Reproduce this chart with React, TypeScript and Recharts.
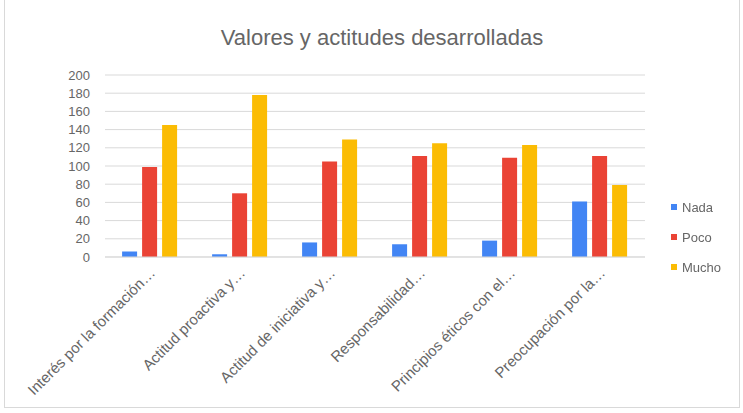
import { BarChart, Bar, XAxis, YAxis, CartesianGrid, Legend } from 'recharts';

const categories = [
  'Interés por la formación…',
  'Actitud proactiva y…',
  'Actitud de iniciativa y…',
  'Responsabilidad…',
  'Principios éticos con el…',
  'Preocupación por la…',
];
const nada = [6, 3, 16, 14, 18, 61];
const poco = [99, 70, 105, 111, 109, 111];
const mucho = [145, 178, 129, 125, 123, 79];
const yTicks = [0, 20, 40, 60, 80, 100, 120, 140, 160, 180, 200];

const series = [
  { key: 'nada', name: 'Nada', color: '#4285F4' },
  { key: 'poco', name: 'Poco', color: '#EA4335' },
  { key: 'mucho', name: 'Mucho', color: '#FBBC04' },
];

const data = categories.map((name, i) => ({ name, nada: nada[i], poco: poco[i], mucho: mucho[i] }));

const font = '"Liberation Sans", Arial, sans-serif';
const textColor = '#666666';

function LegendBox() {
  return (
    <div style={{ fontFamily: font, fontSize: 13, color: textColor }}>
      {series.map((s) => (
        <div key={s.key} style={{ display: 'flex', alignItems: 'center', height: 30 }}>
          <span style={{ width: 6, height: 6, background: s.color, marginRight: 5, display: 'inline-block' }} />
          {s.name}
        </div>
      ))}
    </div>
  );
}

function XTick(props: any) {
  const { x, y, payload } = props;
  const ax = x + 6;
  const ay = y + 9;
  return (
    <text
      x={ax}
      y={ay}
      transform={`rotate(-45, ${ax}, ${ay})`}
      textAnchor="end"
      fill={textColor}
      fontSize={15}
      fontFamily={font}
    >
      {payload.value}
    </text>
  );
}

export default function App() {
  return (
    <div style={{ position: 'fixed', left: 0, top: 0, width: 743, height: 413, background: '#fff' }}>
      <div
        style={{
          position: 'absolute', left: 4, top: -2, width: 736, height: 410,
          border: '1px solid #d9d9d9', boxSizing: 'border-box',
        }}
      />
      <div
        style={{
          position: 'absolute', top: 25, left: 0, width: 764, textAlign: 'center',
          fontFamily: font, fontSize: 22, color: textColor, lineHeight: '26px',
        }}
      >
        Valores y actitudes desarrolladas
      </div>
      <BarChart
        width={743}
        height={413}
        data={data}
        margin={{ top: 75, right: 18, bottom: 0, left: 0 }}
        barCategoryGap="19%"
        barGap={5}
        style={{ position: 'absolute', left: 0, top: 0 }}
      >
        <CartesianGrid vertical={false} stroke="#d9d9d9" />
        <XAxis
          dataKey="name"
          interval={0}
          height={156}
          tick={<XTick />}
          tickLine={false}
          axisLine={{ stroke: '#d9d9d9' }}
        />
        <YAxis
          domain={[0, 200]}
          ticks={yTicks}
          interval={0}
          width={105}
          tickMargin={9}
          tick={{ fill: textColor, fontSize: 13, fontFamily: font }}
          tickLine={false}
          axisLine={false}
        />
        <Legend
          layout="vertical"
          align="right"
          verticalAlign="top"
          wrapperStyle={{ top: 192, left: 671, right: 'auto', width: 80 }}
          content={<LegendBox />}
        />
        {series.map((s) => (
          <Bar key={s.key} dataKey={s.key} name={s.name} fill={s.color} isAnimationActive={false} />
        ))}
      </BarChart>
    </div>
  );
}
